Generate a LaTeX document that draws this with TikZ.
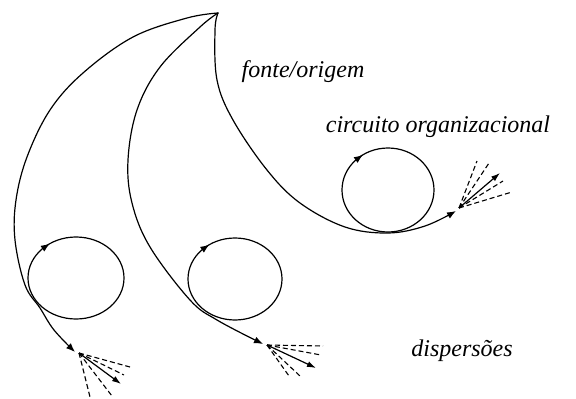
\documentclass[tikz,border=0pt]{standalone}
\usepackage{fontspec}
\setmainfont{Liberation Serif}
\usetikzlibrary{arrows.meta,calc}
\begin{document}
\begin{tikzpicture}[x=1pt,y=-1pt,
  flow/.style={line width=1.2pt,line cap=round},
  loopline/.style={line width=1.2pt},
  tip/.style={-{Latex[length=9pt,width=7pt]}},
  spraymain/.style={line width=1.2pt,-{Latex[length=9pt,width=6pt]}},
  spraydash/.style={line width=1.1pt,dash pattern=on 5pt off 3pt},
  lbl/.style={font=\fontsize{24}{28}\selectfont\itshape,inner sep=0pt}]
\useasboundingbox (0,0) rectangle (576,399);
% source
\coordinate (src) at (218,13);
% loop centres
\coordinate (c1) at (76,278);
\coordinate (c2) at (235,279);
\coordinate (c3) at (388,190);
% flows
\draw[flow,tip] plot[smooth,tension=0.6] coordinates {(218,13) (187,18) (133,37) (83,73) (50,110) (27,157) (16,200) (15,240) (25,285) (40,308) (54,330) (75,352)};
\draw[flow,tip] plot[smooth,tension=0.6] coordinates {(218,13) (200,27) (160,67) (137,110) (128,160) (132,203) (150,247) (190,300) (217,320) (263,344)};
\draw[flow,tip] plot[smooth,tension=0.6] coordinates {(218,13) (215,30) (217,80) (233,120) (267,170) (300,203) (345,227) (388,233) (425,226) (456,211)};
% loops
\draw[loopline] (c1) ellipse [x radius=48,y radius=41];
\draw[loopline] (c2) ellipse [x radius=47,y radius=41];
\draw[loopline] (c3) ellipse [x radius=46,y radius=42];
\foreach \c/\rx/\ry in {c1/48/41,c2/47/41,c3/46/42}{
  \draw[loopline,tip] ($(\c)+({\rx*cos(134)},{-\ry*sin(134)})$) -- ($(\c)+({\rx*cos(123)},{-\ry*sin(123)})$);
}
% sprays
\coordinate (s1) at (79,353);
\draw[spraymain] (s1) -- (121,384);
\foreach \p in {(130,367),(124,375),(112,396),(90,397)}{\draw[spraydash] (s1) -- \p;}
\coordinate (s2) at (267,345);
\draw[spraymain] (s2) -- (316,368);
\foreach \p in {(323,346),(321,355),(300,376),(289,376)}{\draw[spraydash] (s2) -- \p;}
\coordinate (s3) at (459,208);
\draw[spraymain] (s3) -- (500,173);
\foreach \p in {(477,161),(489,163),(503,181),(512,192)}{\draw[spraydash] (s3) -- \p;}
% labels
\node[lbl] (fonte) at (303,72) {fonte/origem};
\node[lbl] (circ) at (438,127) {circuito organizacional};
\node[lbl] (disp) at (462,351) {dispersões};
\end{tikzpicture}
\end{document}
